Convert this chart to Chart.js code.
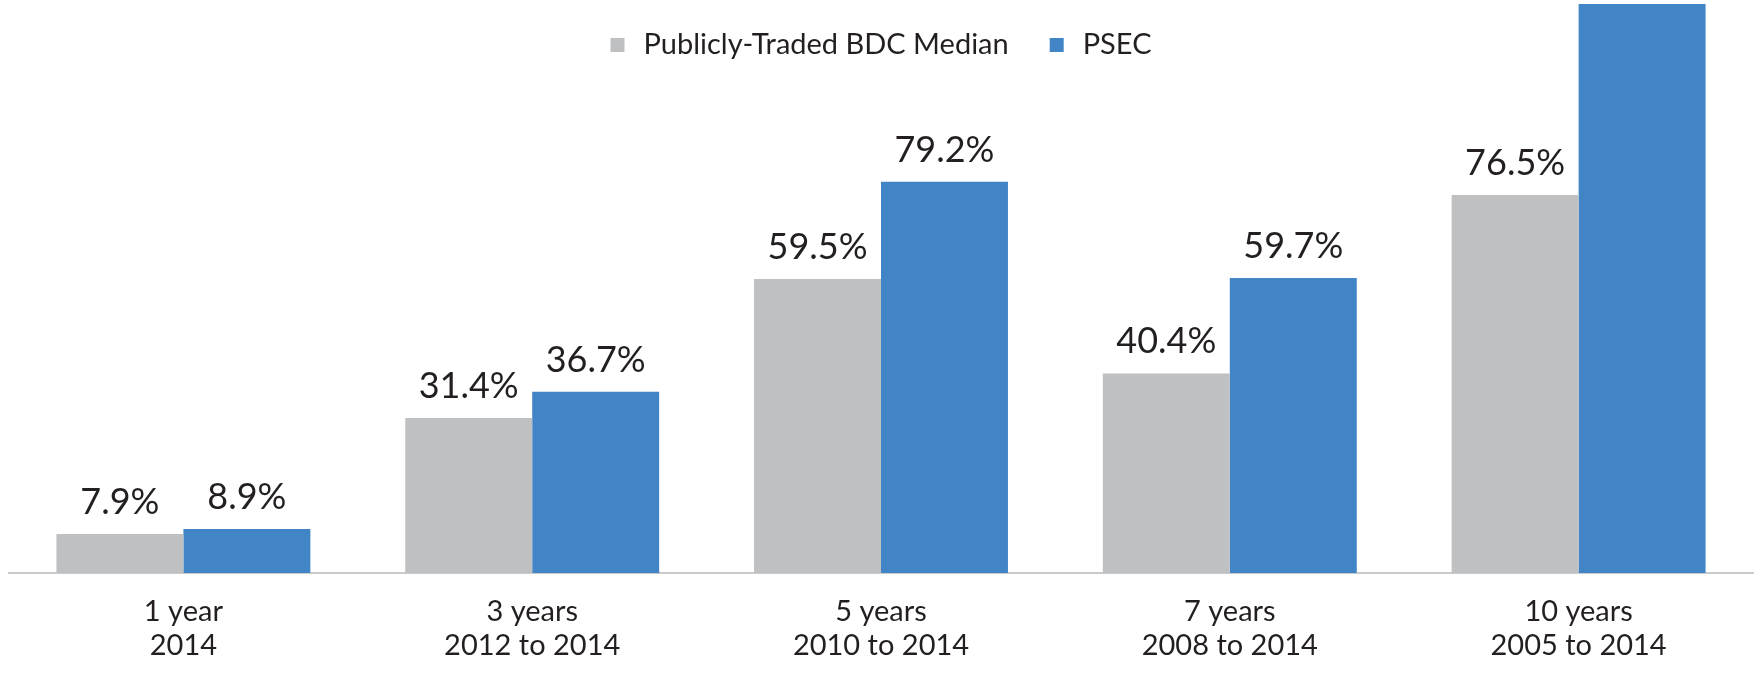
<!DOCTYPE html>
<html>
<head>
<meta charset="utf-8">
<script src="https://cdn.jsdelivr.net/npm/chart.js@4/dist/chart.umd.min.js"></script>
<style>
  html, body { margin: 0; padding: 0; background: #fff; }
  #wrap { width: 1758px; height: 677px; position: relative; }
</style>
</head>
<body>
<div id="wrap"><canvas id="chart"></canvas></div>
<script>
// categories (two-line labels)
const categories = [
  ['1 year', '2014'],
  ['3 years', '2012 to 2014'],
  ['5 years', '2010 to 2014'],
  ['7 years', '2008 to 2014'],
  ['10 years', '2005 to 2014']
];
const seriesNames = ['Publicly-Traded BDC Median', 'PSEC'];
const bdcMedian = [7.9, 31.4, 59.5, 40.4, 76.5];
const psec = [8.9, 36.7, 79.2, 59.7, 115.2];

const GRAY = '#bfc0c2';
const BLUE = '#4185c6';
const TEXT = '#231f20';
const FONT = 'Lato, "Open Sans", sans-serif';

// value labels above each bar
const valueLabels = {
  id: 'valueLabels',
  afterDatasetsDraw(chart) {
    const ctx = chart.ctx;
    ctx.save();
    ctx.font = '36px ' + FONT;
    ctx.fillStyle = TEXT;
    ctx.textAlign = 'center';
    ctx.textBaseline = 'alphabetic';
    chart.data.datasets.forEach((ds, i) => {
      chart.getDatasetMeta(i).data.forEach((bar, j) => {
        const y = bar.y - 20;
        if (y < 30) return; // off the top, not shown in the original
        ctx.fillText(ds.data[j].toFixed(1) + '%', bar.x, y);
      });
    });
    ctx.restore();
  }
};

// legend overlaid at the top of the plot
const topLegend = {
  id: 'topLegend',
  afterDraw(chart) {
    const ctx = chart.ctx;
    ctx.save();
    ctx.font = '29px ' + FONT;
    ctx.textBaseline = 'middle';
    const items = chart.data.datasets.map(ds => ({ text: ds.label, color: ds.backgroundColor }));
    const box = 14, gapText = 19, gapItem = 41;
    let total = 0;
    items.forEach((it, i) => {
      total += box + gapText + ctx.measureText(it.text).width + (i < items.length - 1 ? gapItem : 0);
    });
    let x = (chart.chartArea.left + chart.chartArea.right) / 2 - total / 2;
    const y = 45;
    items.forEach(it => {
      ctx.fillStyle = it.color;
      ctx.fillRect(x, y - box / 2, box, box);
      x += box + gapText;
      ctx.fillStyle = TEXT;
      ctx.fillText(it.text, x, y);
      x += ctx.measureText(it.text).width + gapItem;
    });
    ctx.restore();
  }
};

new Chart(document.getElementById('chart'), {
  type: 'bar',
  data: {
    labels: categories,
    datasets: [
      { label: seriesNames[0], data: bdcMedian, backgroundColor: GRAY },
      { label: seriesNames[1], data: psec, backgroundColor: BLUE }
    ]
  },
  options: {
    responsive: true,
    maintainAspectRatio: false,
    animation: false,
    layout: { padding: { left: 9, right: 5, top: 0, bottom: 0 } },
    datasets: {
      bar: { barPercentage: 1, categoryPercentage: 0.728, borderWidth: 0 }
    },
    plugins: {
      legend: { display: false },
      tooltip: { enabled: false }
    },
    scales: {
      x: {
        grid: { display: false, drawTicks: false, tickLength: 0 },
        border: { display: true, color: '#c9cacb', width: 2 },
        ticks: {
          color: TEXT,
          padding: 22,
          font: { family: FONT, size: 29, lineHeight: 1.17 },
          maxRotation: 0
        },
        afterFit(scale) { scale.height = 104; }
      },
      y: {
        display: false,
        min: 0,
        max: 116,
        grid: { display: false }
      }
    }
  },
  plugins: [valueLabels, topLegend]
});
</script>
</body>
</html>
